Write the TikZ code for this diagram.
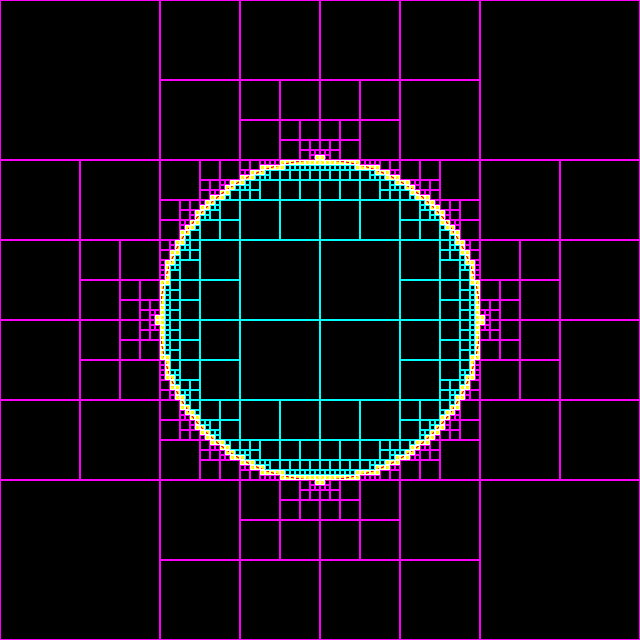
\documentclass[tikz,border=0pt]{standalone}
\definecolor{qmag}{RGB}{255,0,255}
\definecolor{qcyan}{RGB}{0,255,255}
\definecolor{qyel}{RGB}{255,255,0}
\definecolor{qred}{RGB}{255,0,0}
\tikzset{
  outcell/.style={draw=qmag, line width=1pt},
  incell/.style={draw=qcyan, line width=1pt},
  bndfill/.style={fill=qyel},
  bndcell/.style={draw=white, line width=1pt},
  curvered/.style={draw=qred, line width=1pt},
}
\gdef\qtblist{}
\def\qtb#1#2#3#4{\draw[bndcell] (#1+0.5,#2+0.5) rectangle (#3-0.5,#4-0.5);}
% quadtree of a circle: grid units of 5px, centre (64,64), radius 32
\def\qt#1#2#3{%
  \begingroup
  \ifnum\numexpr#1+#3\relax<64 \edef\mdx{\the\numexpr64-#1-#3\relax}%
  \else\ifnum#1>64 \edef\mdx{\the\numexpr#1-64\relax}\else\def\mdx{0}\fi\fi
  \ifnum\numexpr#2+#3\relax<64 \edef\mdy{\the\numexpr64-#2-#3\relax}%
  \else\ifnum#2>64 \edef\mdy{\the\numexpr#2-64\relax}\else\def\mdy{0}\fi\fi
  \edef\ax{\the\numexpr#1-64\relax}\ifnum\ax<0 \edef\ax{\the\numexpr-\ax\relax}\fi
  \edef\bx{\the\numexpr#1+#3-64\relax}\ifnum\bx<0 \edef\bx{\the\numexpr-\bx\relax}\fi
  \ifnum\bx>\ax \let\ax\bx\fi
  \edef\ay{\the\numexpr#2-64\relax}\ifnum\ay<0 \edef\ay{\the\numexpr-\ay\relax}\fi
  \edef\by{\the\numexpr#2+#3-64\relax}\ifnum\by<0 \edef\by{\the\numexpr-\by\relax}\fi
  \ifnum\by>\ay \let\ay\by\fi
  \edef\mind{\the\numexpr\mdx*\mdx+\mdy*\mdy\relax}%
  \edef\maxd{\the\numexpr\ax*\ax+\ay*\ay\relax}%
  \edef\pa{\the\numexpr5*#1\relax}\edef\pb{\the\numexpr5*#2\relax}%
  \edef\pc{\the\numexpr5*(#1+#3)\relax}\edef\pd{\the\numexpr5*(#2+#3)\relax}%
  \ifnum\mind>1024 \def\qtmode{0}\else
    \ifnum\maxd<1024 \def\qtmode{1}\else
      \ifnum#3=1 \def\qtmode{3}\else\def\qtmode{2}\fi
    \fi
  \fi
  \ifcase\qtmode
    \draw[outcell] (\pa+0.5,\pb+0.5) rectangle (\pc-0.5,\pd-0.5);
  \or
    \draw[incell] (\pa+0.5,\pb+0.5) rectangle (\pc-0.5,\pd-0.5);
  \or
    \edef\h{\the\numexpr#3/2\relax}%
    \edef\xm{\the\numexpr#1+\h\relax}\edef\ym{\the\numexpr#2+\h\relax}%
    \edef\next{\noexpand\qt{#1}{#2}{\h}\noexpand\qt{\xm}{#2}{\h}%
      \noexpand\qt{#1}{\ym}{\h}\noexpand\qt{\xm}{\ym}{\h}}%
    \next
  \or
    \fill[bndfill] (\pa+1,\pb+1) rectangle (\pc-1,\pd-1);
    \xdef\qtblist{\unexpanded\expandafter{\qtblist}\noexpand\qtb{\pa}{\pb}{\pc}{\pd}}%
  \fi
  \endgroup}
\begin{document}
\begin{tikzpicture}[x=1pt,y=-1pt]
  \useasboundingbox (0,0) rectangle (640,640);
  \fill[black] (0,0) rectangle (640,640);
  \coordinate (c) at (320,320);
  \qt{0}{0}{128}
  \draw[curvered] (c) circle[radius=160pt];
  \qtblist
\end{tikzpicture}
\end{document}
